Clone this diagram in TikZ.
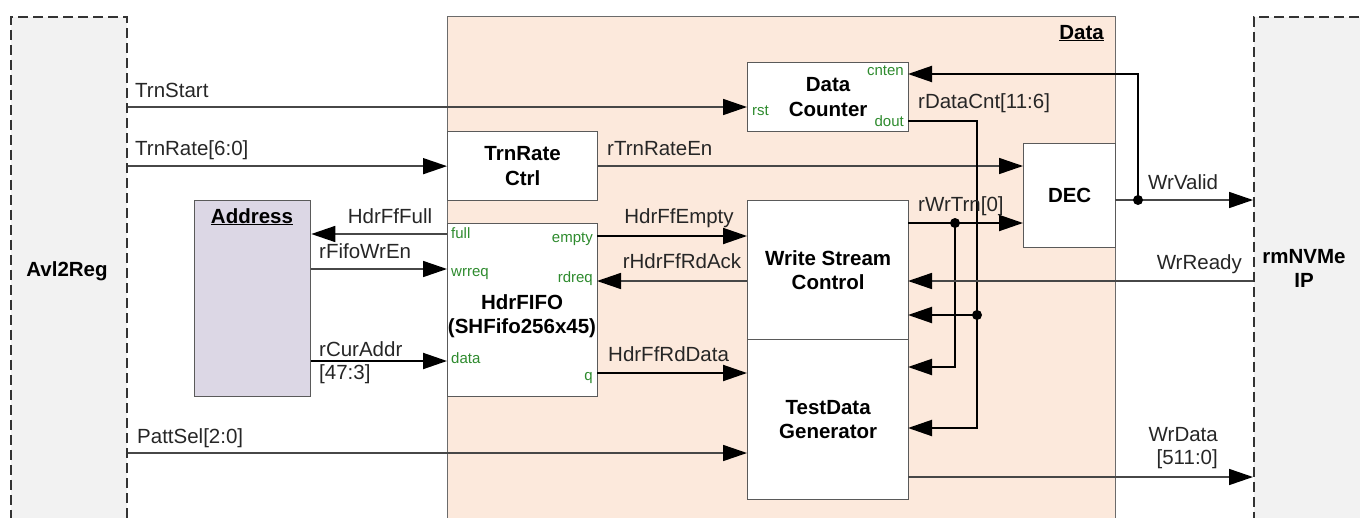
\documentclass[tikz,border=0pt]{standalone}
\usepackage{fontspec}
\setmainfont{Liberation Sans}
\usetikzlibrary{arrows.meta,positioning}

\definecolor{databack}{HTML}{FCE9DC}
\definecolor{extback}{HTML}{F2F2F2}
\definecolor{addrback}{HTML}{DCD7E5}
\definecolor{portgreen}{HTML}{2E8B2E}
\definecolor{wiregray}{HTML}{474747}
\definecolor{boxgray}{HTML}{5A5A5A}

\begin{document}
\begin{tikzpicture}[x=1pt,y=-1pt,
  blk/.style={draw=boxgray, line width=1.3pt, fill=white, anchor=north west,
    inner sep=0pt, align=center, font=\bfseries\fontsize{20.5}{24.5}\selectfont},
  ext/.style={draw=black!80, line width=1.5pt, dash pattern=on 10pt off 5pt,
    fill=extback, anchor=north west, inner sep=0pt},
  title/.style={inner sep=0pt, align=center, font=\bfseries\fontsize{20.5}{24.5}\selectfont},
  lbl/.style={inner sep=0pt, text=black!85, font=\fontsize{20.5}{23.5}\selectfont},
  port/.style={inner sep=0pt, text=portgreen, font=\fontsize{15}{18}\selectfont},
  sig/.style={draw=wiregray, line width=1.6pt, -{Triangle[length=24pt,width=16pt,color=black]}},
  fb/.style={sig, draw=black, line width=2pt},
  ]
\useasboundingbox (0,0) rectangle (1360,517);
\clip (0,0) rectangle (1360,517);

% outer blocks
\node[ext, minimum width=116pt, minimum height=520pt] (avl) at (10,16) {};
\node[ext, minimum width=130pt, minimum height=520pt] (nvme) at (1253,16) {};
\node[blk, fill=databack, draw=boxgray!90, line width=1.2pt, minimum width=668pt, minimum height=520pt] (data) at (447,16) {};
\node[title, anchor=base] (avltitle) at (67,276) {Avl2Reg};
\node[title, anchor=north] (nvmetitle) at (1304,249) {rmNVMe\\IP};
\node[title, anchor=base east] (datatitle) at (1104,39) {\underline{Data}};

% inner blocks
\node[blk, minimum width=161pt, minimum height=69pt] (ctr) at (747,62) {Data\\Counter};
\node[blk, minimum width=150pt, minimum height=69pt] (rate) at (447,131) {TrnRate\\Ctrl};
\node[blk, minimum width=92pt, minimum height=104pt] (dec) at (1023,143) {DEC};
\node[blk, fill=addrback, minimum width=116pt, minimum height=196pt] (addr) at (194,200) {};
\node[title, anchor=base] (addrtitle) at (252,223) {\underline{Address}};
\node[blk, minimum width=150pt, minimum height=173pt] (fifo) at (447,223) {};
\node[title] (fifotitle) at (522,316) {HdrFIFO\\(SHFifo256x45)};
\node[blk, minimum width=161pt, minimum height=139pt] (wsc) at (747,200) {Write Stream\\Control};
\node[blk, minimum width=161pt, minimum height=160pt] (tdg) at (747,339) {TestData\\Generator};

% ports
\coordinate (ctr-rst) at (747,107);
\coordinate (ctr-en) at (908,74);
\coordinate (ctr-dout) at (908,121);
\coordinate (fifo-full) at (447,234);
\coordinate (fifo-wr) at (447,269);
\coordinate (fifo-din) at (447,361);
\coordinate (fifo-empty) at (597,236);
\coordinate (fifo-rd) at (597,281);
\coordinate (fifo-q) at (597,373);
\coordinate (dec-en) at (1023,166);
\coordinate (dec-trn) at (1023,223);
\coordinate (dec-out) at (1115,200);
\coordinate (wsc-empty) at (747,236);
\coordinate (wsc-ack) at (747,281);
\coordinate (wsc-trn) at (908,223);
\coordinate (wsc-rdy) at (908,281);
\coordinate (wsc-cnt) at (908,315);
\coordinate (tdg-q) at (747,373);
\coordinate (tdg-sel) at (747,453);
\coordinate (tdg-trn) at (908,367);
\coordinate (tdg-cnt) at (908,428);
\coordinate (tdg-out) at (908,477);
\coordinate (jvalid) at (1138,200);
\coordinate (jtrn) at (955,223);
\coordinate (jcnt) at (977,315);

\node[port, anchor=base east] (p-en) at (904,75) {cnten};
\node[port, anchor=base west] (p-rst) at (752,115) {rst};
\node[port, anchor=base east] (p-dout) at (904,126) {dout};
\node[port, anchor=base west] (p-full) at (451,238) {full};
\node[port, anchor=base east] (p-empty) at (593,242) {empty};
\node[port, anchor=base west] (p-wr) at (451,276) {wrreq};
\node[port, anchor=base east] (p-rd) at (593,282) {rdreq};
\node[port, anchor=base west] (p-din) at (451,363) {data};
\node[port, anchor=base east] (p-q) at (593,380) {q};

% signals
\draw[sig] (avl.east |- ctr-rst) -- (ctr-rst);
\draw[sig] (avl.east |- rate.west) -- (rate.west);
\draw[sig] (fifo-full) -- (addr.east |- fifo-full);
\draw[sig] (addr.east |- fifo-wr) -- (fifo-wr);
\draw[fb] (addr.east |- fifo-din) -- (fifo-din);
\draw[sig] (rate.east |- dec-en) -- (dec-en);
\draw[fb] (fifo-empty) -- (wsc-empty);
\draw[sig] (wsc-ack) -- (fifo-rd);
\draw[fb] (fifo-q) -- (tdg-q);
\draw[sig] (avl.east |- tdg-sel) -- (tdg-sel);
\draw[fb] (wsc-trn) -- (dec-trn);
\draw[fb] (jtrn) |- (tdg-trn);
\draw[fb, -] (ctr-dout) -| (jcnt);
\draw[fb] (jcnt) -- (wsc-cnt);
\draw[fb] (jcnt) |- (tdg-cnt);
\draw[sig] (dec-out) -- (nvme.west |- dec-out);
\draw[fb] (jvalid) |- (ctr-en);
\draw[sig] (nvme.west |- wsc-rdy) -- (wsc-rdy);
\draw[sig] (tdg-out) -- (nvme.west |- tdg-out);
\fill (jvalid) circle (5pt) (jtrn) circle (5pt) (jcnt) circle (5pt);

\node[lbl, anchor=base west] (l-start) at (135,97) {TrnStart};
\node[lbl, anchor=base west] (l-rate) at (135,155) {TrnRate[6:0]};
\node[lbl, anchor=base] (l-full) at (390,223) {HdrFfFull};
\node[lbl, anchor=base west] (l-wren) at (319,258) {rFifoWrEn};
\node[lbl, anchor=north west, align=left] (l-addr) at (319,341) {rCurAddr\\{}[47:3]};
\node[lbl, anchor=base] (l-empty) at (679,223) {HdrFfEmpty};
\node[lbl, anchor=base] (l-ack) at (682,268) {rHdrFfRdAck};
\node[lbl, anchor=base west] (l-q) at (608,361) {HdrFfRdData};
\node[lbl, anchor=base west] (l-sel) at (137,443) {PattSel[2:0]};
\node[lbl, anchor=base west] (l-rateen) at (607,155) {rTrnRateEn};
\node[lbl, anchor=base west] (l-cnt) at (918,108) {rDataCnt[11:6]};
\node[lbl, anchor=base west] (l-trn) at (918,211) {rWrTrn[0]};
\node[lbl, anchor=base west] (l-valid) at (1148,189) {WrValid};
\node[lbl, anchor=base east] (l-ready) at (1242,269) {WrReady};
\node[lbl, anchor=north east, align=right] (l-wrdata) at (1218,427) {WrData\\{}[511:0]};
\end{tikzpicture}
\end{document}
